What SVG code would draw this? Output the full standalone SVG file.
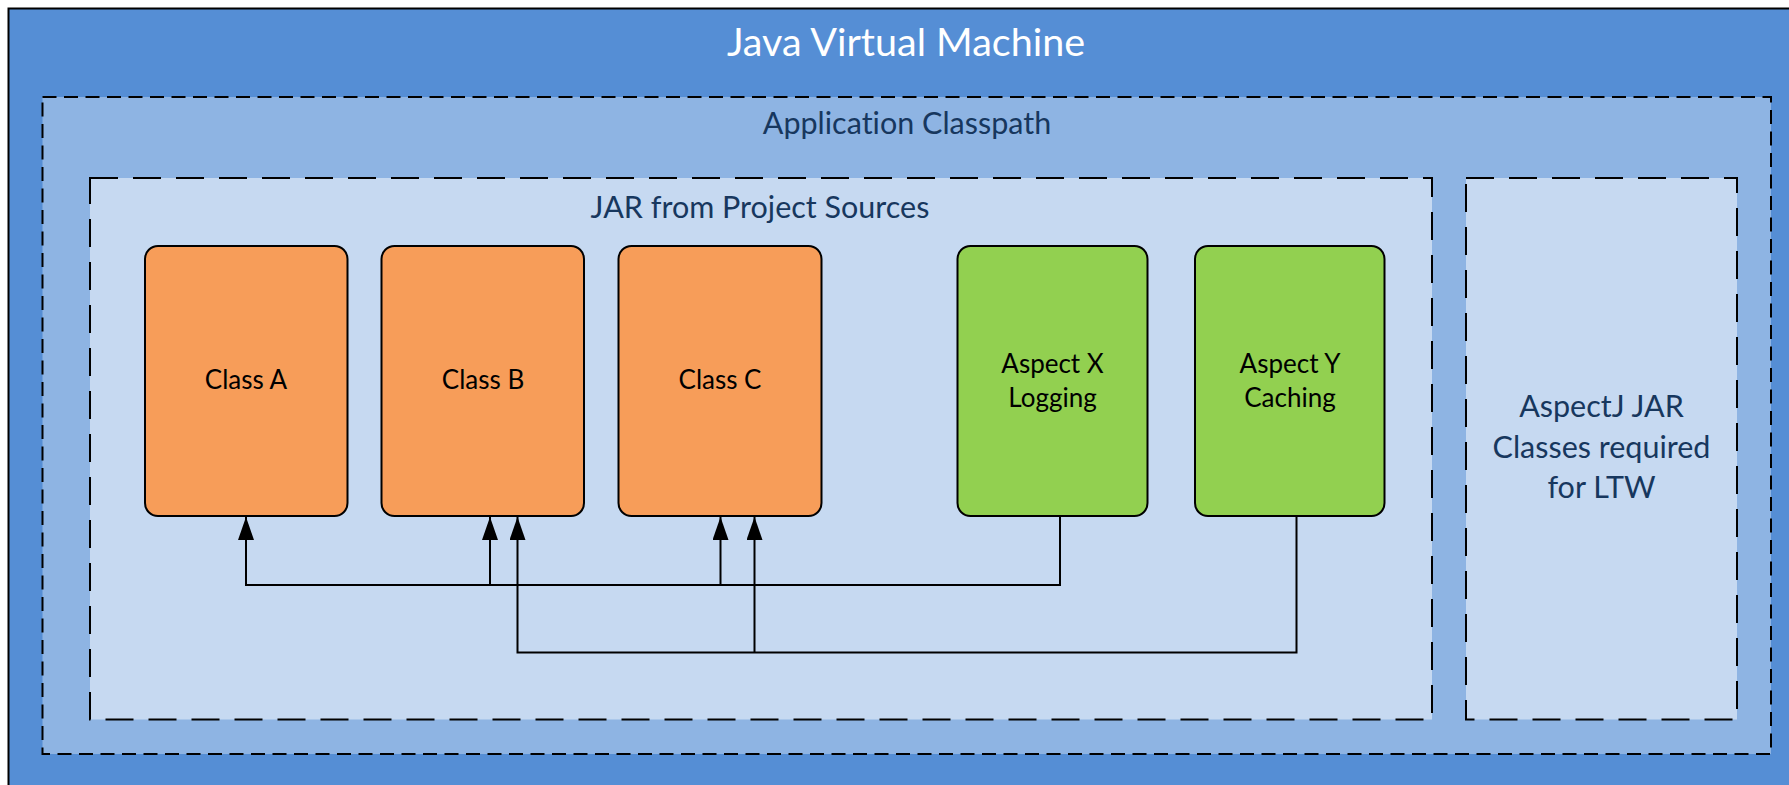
<svg xmlns="http://www.w3.org/2000/svg" width="1789" height="785" viewBox="0 0 1789 785">
  <style>
    .jvm { fill: #558ed5; stroke: #000; stroke-width: 2; }
    .cp { fill: #8eb4e3; stroke: #000; stroke-width: 2; stroke-dasharray: 14 7.5; }
    .jar { fill: #c6d9f1; stroke: #000; stroke-width: 2; stroke-dasharray: 28 15; }
    .cls { fill: #f79d59; stroke: #000; stroke-width: 2; }
    .asp { fill: #92d050; stroke: #000; stroke-width: 2; }
    text { font-family: Lato, "Open Sans", sans-serif; text-anchor: middle; font-variant-ligatures: none; }
    .title { fill: #fff; font-size: 39.5px; }
    .sect { fill: #17375e; font-size: 30.5px; }
    .lbl { fill: #000; font-size: 26px; }
    .wire { fill: none; stroke: #000; stroke-width: 2; }
  </style>
  <defs>
    <marker id="arrow" viewBox="0 0 23 16" refX="23" refY="8" markerWidth="23" markerHeight="16" markerUnits="userSpaceOnUse" orient="auto">
      <path d="M0,0 L23,8 L0,16 z" fill="#000"/>
    </marker>
  </defs>

  <!-- runtime container -->
  <g id="jvm">
    <rect class="jvm" x="8.5" y="8.5" width="1800" height="800"/>
    <text class="title" x="906" y="56">Java Virtual Machine</text>
  </g>

  <g id="app-classpath">
    <rect class="cp" x="42.5" y="97" width="1728.5" height="657"/>
    <text class="sect" x="907" y="134">Application Classpath</text>
  </g>

  <g id="project-jar">
    <rect class="jar" x="90" y="178" width="1342" height="541.5"/>
    <text class="sect" x="760" y="218">JAR from Project Sources</text>
  </g>

  <g id="aspectj-jar">
    <rect class="jar" x="1466" y="178" width="271" height="541.5"/>
    <text class="sect" x="1601.5" y="417">AspectJ JAR</text>
    <text class="sect" x="1601.5" y="458">Classes required</text>
    <text class="sect" x="1601.5" y="498">for LTW</text>
  </g>

  <!-- application classes -->
  <g id="class-a">
    <rect class="cls" x="145" y="246" width="202.5" height="270" rx="13"/>
    <text class="lbl" x="246" y="389">Class A</text>
  </g>
  <g id="class-b">
    <rect class="cls" x="381.5" y="246" width="202.5" height="270" rx="13"/>
    <text class="lbl" x="483" y="389">Class B</text>
  </g>
  <g id="class-c">
    <rect class="cls" x="618.5" y="246" width="203" height="270" rx="13"/>
    <text class="lbl" x="720" y="389">Class C</text>
  </g>

  <!-- aspects -->
  <g id="aspect-x">
    <rect class="asp" x="957.5" y="246" width="190" height="270" rx="13"/>
    <text class="lbl" x="1052.5" y="373">Aspect X</text>
    <text class="lbl" x="1052.5" y="407">Logging</text>
  </g>
  <g id="aspect-y">
    <rect class="asp" x="1195" y="246" width="189.5" height="270" rx="13"/>
    <text class="lbl" x="1290" y="373">Aspect Y</text>
    <text class="lbl" x="1290" y="407">Caching</text>
  </g>

  <!-- weaving connectors -->
  <g id="connectors">
    <path class="wire" d="M1060,517 V585 H246 V517" marker-end="url(#arrow)"/>
    <path class="wire" d="M490,585 V517" marker-end="url(#arrow)"/>
    <path class="wire" d="M720.5,585 V517" marker-end="url(#arrow)"/>
    <path class="wire" d="M1296.5,517 V652.5 H517.5 V517" marker-end="url(#arrow)"/>
    <path class="wire" d="M754.5,652.5 V517" marker-end="url(#arrow)"/>
  </g>
</svg>
